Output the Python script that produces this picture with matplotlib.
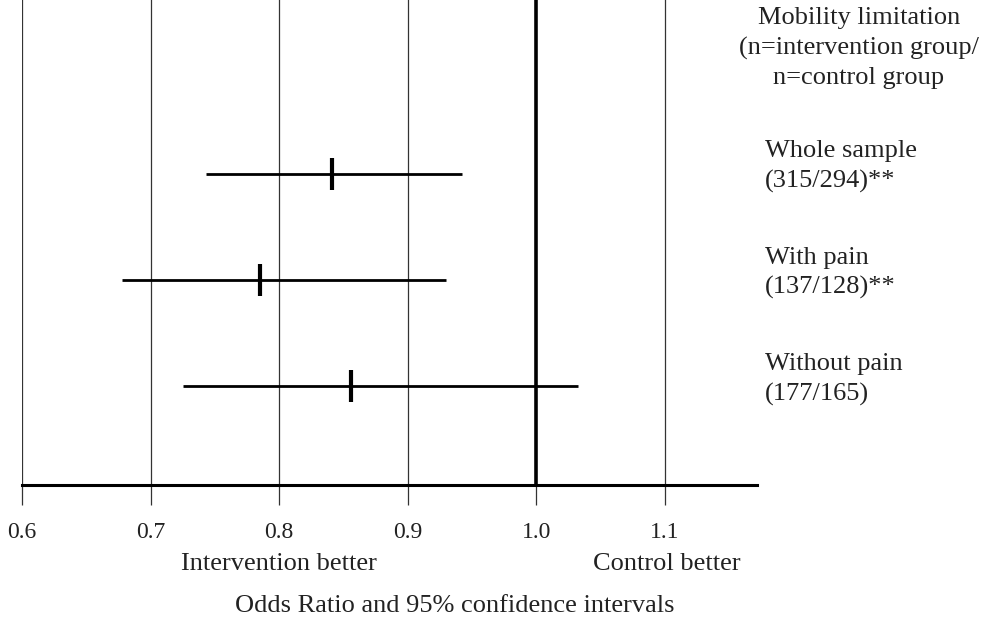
import matplotlib
matplotlib.use("Agg")
import matplotlib.pyplot as plt

# Data
groups = ["Whole sample", "With pain", "Without pain"]
group_n = ["(315/294)**", "(137/128)**", "(177/165)"]
odds_ratio = [0.841, 0.785, 0.856]
ci_low = [0.743, 0.678, 0.725]
ci_high = [0.942, 0.930, 1.032]
tick_values = [0.6, 0.7, 0.8, 0.9, 1.0, 1.1]
tick_labels = ["0.6", "0.7", "0.8", "0.9", "1.0", "1.1"]

W, H = 984, 621
plt.rcParams['font.family'] = ['Liberation Serif', 'DejaVu Serif']
fig = plt.figure(figsize=(W / 100, H / 100), dpi=100)

# axes in pixel geometry
ax_left, ax_right, ax_top, ax_bottom = 22, 757, 0, 485
ax = fig.add_axes([ax_left / W, 1 - ax_bottom / H, (ax_right - ax_left) / W, (ax_bottom - ax_top) / H])
ax.set_xlim(0.6, 1.1715)
ax.set_ylim(0.0715, 4.634)

ypos = [3, 2, 1]

# vertical reference lines
for v in tick_values:
    lw = 2.6 if v == 1.0 else 0.9
    col = 'black' if v == 1.0 else '#333333'
    ax.axvline(v, color=col, lw=lw, zorder=1)

# CI lines and point markers
for y, o, lo, hi in zip(ypos, odds_ratio, ci_low, ci_high):
    ax.plot([lo, hi], [y, y], color='black', lw=2.0, solid_capstyle='butt', zorder=3)
    ax.plot([o], [y], marker='|', markersize=23, markeredgewidth=3, color='black', zorder=4)

for s in ['top', 'right', 'left']:
    ax.spines[s].set_visible(False)
ax.spines['bottom'].set_linewidth(2.2)
ax.set_yticks([])
ax.set_xticks(tick_values)
ax.set_xticklabels(tick_labels, fontsize=17, color='#222222')
ax.tick_params(axis='x', length=14.4, width=0.9, pad=12.5, color='#333333')

# right-side labels
fs = 19
ls = 1.42
fig.text(859 / W, 1 - 48 / H, "Mobility limitation\n(n=intervention group/\nn=control group",
         ha='center', va='center', fontsize=fs, linespacing=ls, color='#222222')
for y, g, n in zip(ypos, groups, group_n):
    py = ax.transData.transform((1.0, y))[1]
    fig.text(765 / W, (py + 7) / H, g + "\n" + n, ha='left', va='center', fontsize=fs,
             linespacing=ls, color='#222222')

fig.text(278.5 / W, 1 - 564 / H, "Intervention better", ha='center', va='center', fontsize=fs, color='#222222')
fig.text(666.5 / W, 1 - 564 / H, "Control better", ha='center', va='center', fontsize=fs, color='#222222')
fig.text(455 / W, 1 - 606 / H, "Odds Ratio and 95% confidence intervals", ha='center', va='center',
         fontsize=fs, color='#222222')

fig.savefig("out.png", dpi=100)
